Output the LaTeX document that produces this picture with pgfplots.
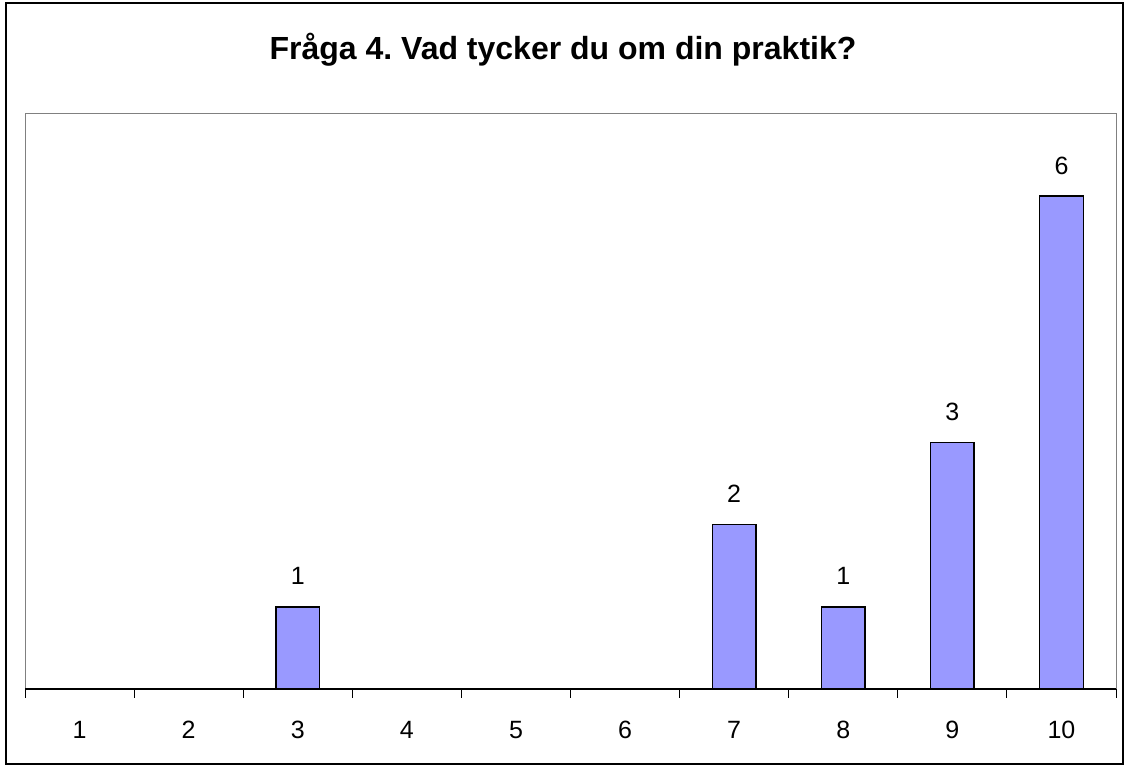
\documentclass[border=0pt]{standalone}
\usepackage{pgfplots}
\pgfplotsset{compat=1.18}
\usepackage{fontspec}
\setmainfont{Liberation Sans}
\frenchspacing
\definecolor{barfill}{HTML}{9999FF}
\definecolor{framegray}{HTML}{808080}
\begin{document}
\begin{tikzpicture}[x=1pt,y=1pt]
\useasboundingbox (0,0) rectangle (1126,767);
\draw[black, line width=1.2pt] (6,3) rectangle (1123,764);
\node[font=\fontsize{32}{38}\selectfont\bfseries] at (563,717) {Fråga 4. Vad tycker du om din praktik?};
\begin{axis}[
  at={(25pt,78pt)}, anchor=south west,
  scale only axis, width=1091pt, height=575pt,
  xmin=0.5, xmax=10.5, ymin=0, ymax=7,
  axis line style={framegray, line width=1pt},
  axis x line*=bottom,
  ytick=\empty,
  xtick={1,...,10},
  major x tick style={draw=none},
  minor xtick={0.5,1.5,...,10.5},
  minor x tick style={black, line width=1pt},
  minor tick length=9pt,
  tick align=outside,
  xtick pos=bottom,
  xticklabel style={font=\fontsize{25}{30}\selectfont, anchor=base, inner sep=0pt, yshift=-45pt},
  /pgf/number format/assume math mode=true,
  clip=false,
]
\draw[framegray, line width=1pt] (axis cs:0.5,0) -- (axis cs:0.5,7) -- (axis cs:10.5,7) -- (axis cs:10.5,0);
\draw[black, line width=1.4pt] (axis cs:0.5,0) -- (axis cs:10.5,0);
\addplot[ybar, bar width=0.4, fill=barfill, draw=black, line width=1.4pt,
  nodes near coords, every node near coord/.append style={font=\fontsize{25}{30}\selectfont, anchor=base, inner sep=0pt, yshift=22pt, black},
  ] coordinates {(3,1) (7,2) (8,1) (9,3) (10,6)};
\end{axis}
\end{tikzpicture}
\end{document}
